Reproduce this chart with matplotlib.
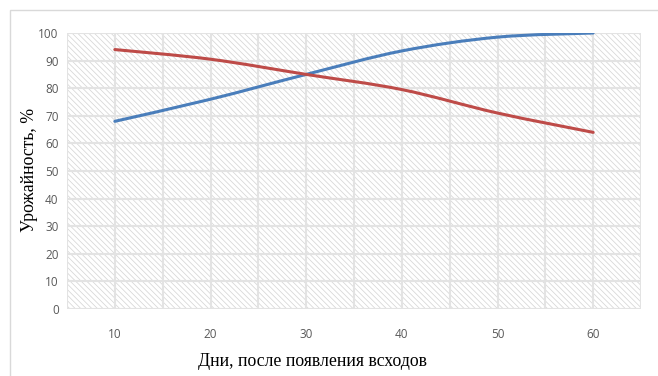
import matplotlib.pyplot as plt
from matplotlib.path import Path
from matplotlib.patches import PathPatch, Rectangle

# Данные графика
days = [10, 20, 30, 40, 50, 60]
blue_values = [68, 76, 85, 93.5, 98.5, 100]
red_values = [94, 90.5, 85, 79.5, 71, 64]

y_ticks = list(range(0, 101, 10))
x_ticks = [10, 20, 30, 40, 50, 60]


def smooth_path(xs, ys):
    """Сглаженная линия (кривые Безье, как в Excel)."""
    pts = list(zip(xs, ys))
    verts = [pts[0]]
    codes = [Path.MOVETO]
    n = len(pts)
    for i in range(n - 1):
        p0 = pts[i - 1] if i > 0 else pts[i]
        p1 = pts[i]
        p2 = pts[i + 1]
        p3 = pts[i + 2] if i + 2 < n else pts[i + 1]
        c1 = (p1[0] + (p2[0] - p0[0]) / 6, p1[1] + (p2[1] - p0[1]) / 6)
        c2 = (p2[0] - (p3[0] - p1[0]) / 6, p2[1] - (p3[1] - p1[1]) / 6)
        verts += [c1, c2, p2]
        codes += [Path.CURVE4] * 3
    return Path(verts, codes)


plt.rcParams['hatch.linewidth'] = 0.55
plt.rcParams['hatch.color'] = '#d6d6d6'

fig = plt.figure(figsize=(6.58, 3.76), dpi=100)
ax = fig.add_axes([67 / 658, 1 - 309 / 376, (641 - 67) / 658, (309 - 33) / 376])

# внешняя рамка
fig.patches.append(Rectangle((10 / 658, -0.1), 1.2, 1 - 10 / 376 + 0.1,
                             transform=fig.transFigure, fill=False,
                             edgecolor='#d9d9d9', linewidth=1))

ax.set_xlim(5, 65)
ax.set_ylim(0, 100)

# штриховка фона
ax.add_patch(Rectangle((0, 0), 1, 1, transform=ax.transAxes, facecolor='white',
                       edgecolor='#d6d6d6', hatch='\\' * 6, linewidth=0, zorder=0))

for x in range(5, 66, 5):
    ax.axvline(x, color='#e3e3e3', linewidth=1.5, zorder=1)
for y in y_ticks:
    ax.axhline(y, color='#e3e3e3', linewidth=1.5, zorder=1)

ax.add_patch(PathPatch(smooth_path(days, blue_values), fill=False,
                       edgecolor='#4a7ebb', linewidth=2.2, zorder=3,
                       capstyle='round'))
ax.add_patch(PathPatch(smooth_path(days, red_values), fill=False,
                       edgecolor='#be4b48', linewidth=2.2, zorder=3,
                       capstyle='round'))

for s in ax.spines.values():
    s.set_visible(False)

ax.set_xticks(x_ticks)
ax.set_yticks(y_ticks)
ax.tick_params(length=0, labelsize=8.5, labelcolor='#595959', pad=6)
ax.tick_params(axis='x', pad=14)
for lab in ax.get_xticklabels() + ax.get_yticklabels():
    lab.set_family('Open Sans')

fig.text(313 / 658, 1 - 361 / 376, 'Дни, после появления всходов',
         family='Liberation Serif', fontsize=12.8, ha='center', va='center')
fig.text(30 / 658, 1 - 170 / 376, 'Урожайность, %', family='Liberation Serif',
         fontsize=12.8, rotation=90, ha='center', va='center')

fig.savefig('out.png', dpi=100)
